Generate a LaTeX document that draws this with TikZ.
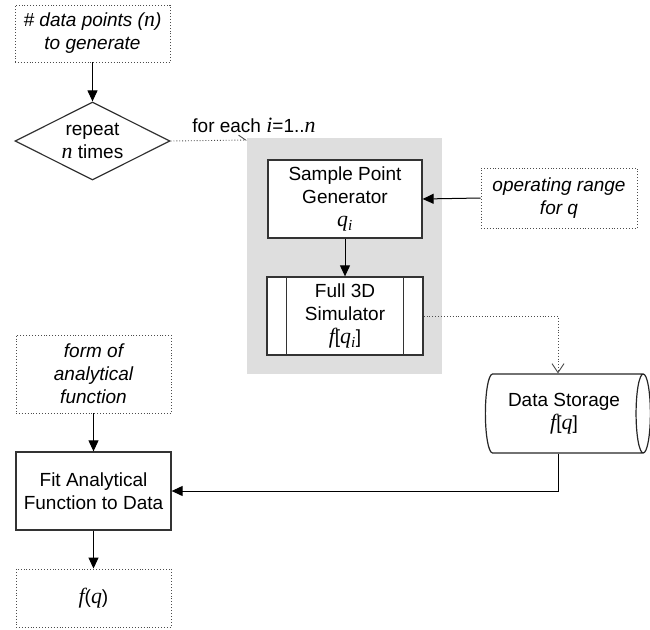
\documentclass[tikz,border=0pt]{standalone}
\usepackage{fontspec}
\setmainfont{Liberation Sans}
\newfontfamily\tmsfam[Scale=1.15]{Liberation Serif}
\newcommand\mi[1]{{\tmsfam\itshape #1}}
\usetikzlibrary{shapes.geometric,arrows.meta,positioning}
\begin{document}
\begin{tikzpicture}[x=1pt,y=-1pt,
  every node/.style={font=\fontsize{19}{23}\selectfont, align=center, inner sep=0pt},
  solidbox/.style={draw=black!80, line width=1.3pt, fill=white},
  inbox/.style={draw=black!70, dotted, line width=0.9pt},
  arr/.style={line width=1pt, -{Triangle[length=11pt,width=10pt]}},
  darr/.style={dotted, line width=0.9pt, black!70, -{Straight Barb[length=9pt,width=12pt]}},
]
\useasboundingbox (0,0) rectangle (650,629);
% shaded region
\fill[black!13] (247,138) rectangle (442,374);
\coordinate (regnw) at (247,140);

\node[inbox, minimum width=155pt, minimum height=57pt] (inp) at (92.5,33.5) {\itshape \# data points (\mi{n})\\\itshape to generate};
\node[draw=black!80, line width=1.2pt, shape=diamond, aspect=2, minimum width=155pt, minimum height=78pt, inner sep=-4pt] (rep) at (92.5,141) {repeat\\\mi{n} times};
\node (each) at (254,125) {for each \mi{i}=1..\mi{n}};

\node[solidbox, minimum width=154pt, minimum height=78pt] (spg) at (345,199) {Sample Point\\Generator\\\mi{q}\textsubscript{\mi{i}}};
\node[solidbox, minimum width=156pt, minimum height=78pt] (sim) at (345,316) {Full 3D\\Simulator\\\mi{f}[\mi{q}\textsubscript{\mi{i}}]};
\draw[line width=1pt, black!80] ([xshift=20pt]sim.north west) -- ([xshift=20pt]sim.south west);
\draw[line width=1pt, black!80] ([xshift=-20pt]sim.north east) -- ([xshift=-20pt]sim.south east);

\node[inbox, minimum width=156pt, minimum height=60pt] (opr) at (559,198) {\itshape operating range\\\itshape for \textit{q}};

\node[draw=black!85, line width=1.2pt, shape=cylinder, aspect=0.35, minimum width=79pt, minimum height=165pt] (ds) at (564,413.5) {Data Storage\\\mi{f}[\mi{q}]};

\node[inbox, minimum width=155pt, minimum height=78pt] (form) at (93.5,374) {\itshape form of\\\itshape analytical\\\itshape function};
\node[solidbox, minimum width=155pt, minimum height=78pt] (fit) at (93.5,491) {Fit Analytical\\Function to Data};
\node[inbox, minimum width=155pt, minimum height=58pt] (out) at (93.5,598) {\mi{f}(\mi{q})};

\coordinate (dsin) at (558,316);
\coordinate (dsout) at (558,491);

\draw[arr] (inp) -- (rep);
\draw[dotted, line width=0.9pt, black!70, -{Straight Barb[left,length=7pt,width=10pt]}] (rep.east) -- (regnw);
\draw[arr] (opr.west) -- (spg.east);
\draw[arr] (spg) -- (sim);
\draw[darr] (sim.east) -- (dsin) -- (dsin |- ds.north);
\draw[arr] (dsin |- ds.south) -- (dsout) -- (fit.east);
\draw[arr] (form) -- (fit);
\draw[arr] (fit) -- (out);
\end{tikzpicture}
\end{document}
